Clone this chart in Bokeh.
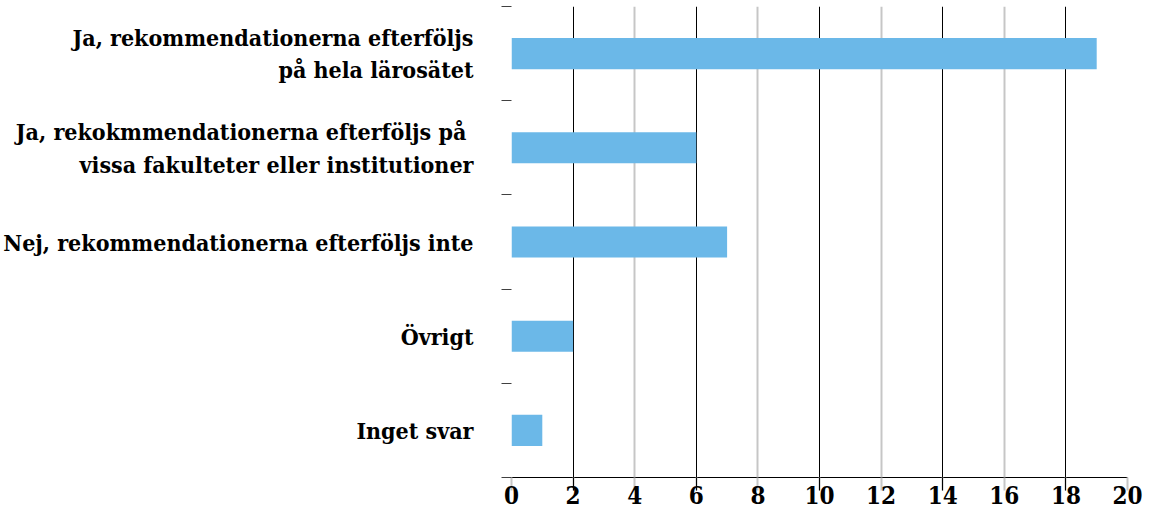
from bokeh.plotting import figure
from bokeh.models import FixedTicker, Grid, Range1d, ColumnDataSource
from bokeh.embed import file_html
from bokeh.resources import INLINE

categories = [
    "Ja, rekommendationerna efterföljs\npå hela lärosätet",
    "Ja, rekokmmendationerna efterföljs på \nvissa fakulteter eller institutioner",
    "Nej, rekommendationerna efterföljs inte",
    "Övrigt",
    "Inget svar",
]
values = [19, 6, 7, 2, 1]
x_ticks = [0, 2, 4, 6, 8, 10, 12, 14, 16, 18, 20]

n = len(categories)
ypos = [n - i - 0.5 for i in range(n)]
boundaries = list(range(n + 1))

FONT = "DejaVu Serif Condensed"

src = ColumnDataSource(dict(y=ypos, v=values))

p = figure(width=1143, height=513, x_range=Range1d(0, 20), y_range=Range1d(0, n),
           output_backend="svg", toolbar_location=None,
           min_border_left=508, min_border_right=16, min_border_top=6, min_border_bottom=36)
p.outline_line_color = None
p.background_fill_color = "white"
p.grid.visible = False

gray_ticks = x_ticks[0::2]
black_ticks = x_ticks[1::2]
g1 = Grid(dimension=0, ticker=FixedTicker(ticks=gray_ticks), grid_line_color="#c6c6c6", grid_line_width=2)
g2 = Grid(dimension=0, ticker=FixedTicker(ticks=black_ticks), grid_line_color="black", grid_line_width=1)
p.add_layout(g1)
p.add_layout(g2)

p.hbar(y="y", right="v", left=0, height=0.33, source=src, fill_color="#6bb8e8", line_color=None)

xa = p.xaxis[0]
xa.ticker = FixedTicker(ticks=x_ticks, minor_ticks=black_ticks)
xa.axis_line_color = "black"
xa.major_tick_line_color = "#c6c6c6"
xa.major_tick_line_width = 2
xa.major_tick_in = 0
xa.major_tick_out = 13
xa.minor_tick_line_color = "black"
xa.minor_tick_line_width = 1
xa.minor_tick_in = 0
xa.minor_tick_out = 13
xa.major_label_standoff = -5
xa.major_label_text_font = FONT
xa.major_label_text_font_style = "bold"
xa.major_label_text_font_size = "24px"
xa.major_label_text_color = "black"

ya = p.yaxis[0]
ya.ticker = FixedTicker(ticks=ypos, minor_ticks=boundaries)
ya.major_label_overrides = {y: c for y, c in zip(ypos, categories)}
ya.axis_line_color = None
ya.major_tick_line_color = None
ya.major_tick_out = 0
ya.major_tick_in = 0
ya.minor_tick_line_color = "#404040"
ya.minor_tick_in = 0
ya.minor_tick_out = 10
ya.major_label_standoff = 28
ya.major_label_text_font = FONT
ya.major_label_text_font_style = "bold"
ya.major_label_text_font_size = "23px"
ya.major_label_text_color = "black"
ya.major_label_text_align = "right"

open("out.html", "w").write(file_html(p, INLINE))
